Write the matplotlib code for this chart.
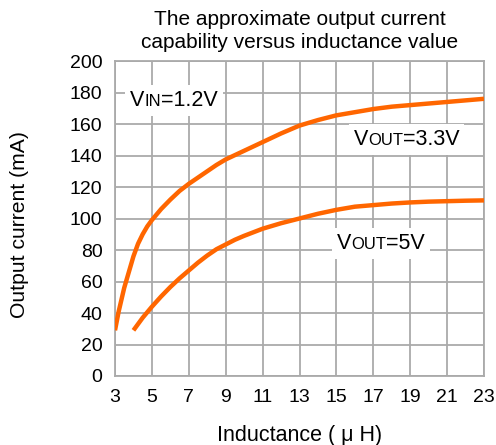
import matplotlib
matplotlib.use("Agg")
import matplotlib.pyplot as plt
from matplotlib.offsetbox import TextArea, HPacker, AnnotationBbox

plt.rcParams['font.family'] = ['Liberation Sans', 'DejaVu Sans']

# Data
x_33 = [3, 3.1, 3.2, 3.3, 3.4, 3.5, 3.6, 3.8, 4, 4.25, 4.5, 4.75, 5, 5.5, 6, 6.5, 7, 7.5, 8, 8.5,
        9, 10, 11, 12, 13, 14, 15, 16, 17, 18, 19, 20, 21, 22, 23]
y_33 = [29, 35, 41, 46, 51, 56, 60, 68, 76, 84, 90, 95, 99, 106, 112, 117.5, 122, 126, 130, 134,
        137.5, 143, 148.5, 154, 159, 162.5, 165.5, 167.5, 169.5, 171, 172, 173, 174, 175, 176]
x_5 = [4, 4.5, 5, 5.5, 6, 6.5, 7, 7.5, 8, 8.5, 9, 9.5, 10, 11, 12, 13, 14, 15, 16, 17, 18, 19, 20,
       21, 22, 23]
y_5 = [29, 37, 44, 50.5, 56.5, 62, 67, 72, 76.5, 80.5, 83.5, 86.5, 89, 93.5, 97, 100, 103, 105.5,
       107.5, 108.5, 109.5, 110.2, 110.7, 111, 111.3, 111.5]

x_ticks = list(range(3, 24, 2))
y_ticks = list(range(0, 201, 20))

title = "The approximate output current\ncapability versus inductance value"
xlabel = "Inductance ( \u03bc H)"
ylabel = "Output current (mA)"

orange = "#FF6600"
grid_c = "#AAAAAA"

fig = plt.figure(figsize=(4.96, 4.45), dpi=100)
ax = fig.add_axes([115/496, 1-376/445, (484-115)/496, (376-61)/445])

ax.plot(x_33, y_33, color=orange, lw=3.2, solid_capstyle='butt', zorder=3)
ax.plot(x_5, y_5, color=orange, lw=3.2, solid_capstyle='butt', zorder=3)

ax.set_xlim(3, 23)
ax.set_ylim(0, 200)
ax.set_xticks(x_ticks)
ax.set_yticks(y_ticks)
ax.grid(True, color=grid_c, lw=1.3)
ax.set_axisbelow(True)
for s in ax.spines.values():
    s.set_color(grid_c)
    s.set_linewidth(1.3)
ax.tick_params(length=0, labelsize=14, colors='black')
ax.tick_params(axis='x', pad=9)
ax.tick_params(axis='y', pad=9)
ax.set_xlabel(xlabel, fontsize=15.5, labelpad=14)
ax.set_ylabel(ylabel, fontsize=15.2)
ax.yaxis.set_label_coords(-0.232, 0.48)
fig.text(300/496, 1-31/445, title, ha='center', va='center', fontsize=15, linespacing=1.3)


def label(x, y, main, sub, rest):
    parts = [TextArea(main, textprops=dict(fontsize=15.5)),
             TextArea(sub, textprops=dict(fontsize=12)),
             TextArea(rest, textprops=dict(fontsize=15.5))]
    box = HPacker(children=parts, align="baseline", pad=0, sep=0)
    ab = AnnotationBbox(box, (x, y), xycoords='data', frameon=True,
                        bboxprops=dict(facecolor='white', edgecolor='none'),
                        pad=0.35, zorder=4)
    ax.add_artist(ab)


label(6.2, 175, "V", "IN", "=1.2V")
label(18.8, 150, "V", "OUT", "=3.3V")
label(17.4, 84, "V", "OUT", "=5V")

fig.savefig("out.png", dpi=100)
